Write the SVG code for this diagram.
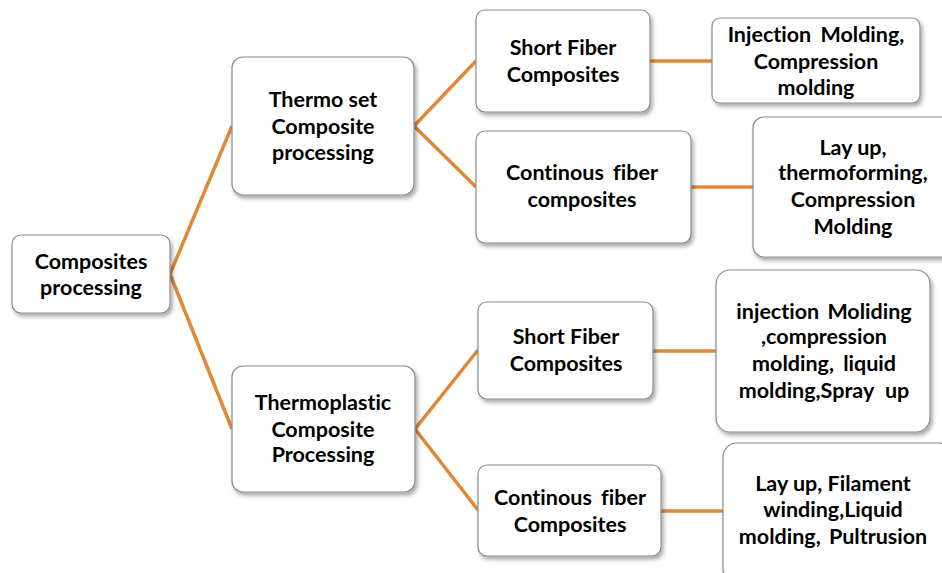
<svg xmlns="http://www.w3.org/2000/svg" width="942" height="573" viewBox="0 0 942 573">
<defs>
<filter id="sh" x="-10%" y="-10%" width="130%" height="140%">
<feDropShadow dx="2" dy="3" stdDeviation="2" flood-color="#000" flood-opacity="0.35"/>
</filter>
</defs>
<style>
.box{fill:#fff;stroke:#8c8c8c;stroke-width:1.2;filter:url(#sh)}
.t{font-family:Lato,"Open Sans","Liberation Sans",sans-serif;font-weight:bold;font-size:21.5px;fill:#000;text-anchor:middle;font-variant-ligatures:none}
.c{stroke:#E0883A;stroke-width:3.5;fill:none}
</style>
<rect width="942" height="573" fill="#fff"/>
<g id="connectors">
<polyline class="c" points="232,126 170,274 232,429"/>
<polyline class="c" points="476,61 414,126 476,187"/>
<polyline class="c" points="478,350 415,429 478,510"/>
<line class="c" x1="650" y1="61" x2="712" y2="61"/>
<line class="c" x1="691" y1="187" x2="753" y2="187"/>
<line class="c" x1="653" y1="351" x2="716" y2="351"/>
<line class="c" x1="661" y1="511" x2="723" y2="511"/>
</g>
<g id="root">
<rect class="box" x="12" y="235" width="158" height="78" rx="9"/>
<text class="t" x="91" y="269">Composites</text>
<text class="t" x="91" y="295">processing</text>
</g>
<g id="thermoset">
<rect class="box" x="232" y="57" width="182" height="138" rx="11"/>
<text class="t" x="323" y="107">Thermo set</text>
<text class="t" x="323" y="134">Composite</text>
<text class="t" x="323" y="160">processing</text>
</g>
<g id="thermoplastic">
<rect class="box" x="232" y="366" width="183" height="126" rx="11"/>
<text class="t" x="323" y="410">Thermoplastic</text>
<text class="t" x="323" y="437">Composite</text>
<text class="t" x="323" y="462">Processing</text>
</g>
<g id="ts-short">
<rect class="box" x="476" y="10" width="174" height="102" rx="9"/>
<text class="t" x="563" y="55">Short Fiber</text>
<text class="t" x="563" y="82">Composites</text>
</g>
<g id="ts-cont">
<rect class="box" x="476" y="131" width="215" height="112" rx="9"/>
<text class="t" x="582" y="180" word-spacing="4">Continous fiber</text>
<text class="t" x="582" y="207">composites</text>
</g>
<g id="ts-short-proc">
<rect class="box" x="712" y="18" width="208" height="85" rx="8"/>
<text class="t" x="816" y="42" word-spacing="4">Injection Molding,</text>
<text class="t" x="816" y="69">Compression</text>
<text class="t" x="816" y="95">molding</text>
</g>
<g id="ts-cont-proc">
<rect class="box" x="753" y="117" width="200" height="140" rx="11"/>
<text class="t" x="853" y="155">Lay up,</text>
<text class="t" x="853" y="180">thermoforming,</text>
<text class="t" x="853" y="207">Compression</text>
<text class="t" x="853" y="234">Molding</text>
</g>
<g id="tp-short">
<rect class="box" x="478" y="302" width="175" height="97" rx="9"/>
<text class="t" x="566" y="344">Short Fiber</text>
<text class="t" x="566" y="371">Composites</text>
</g>
<g id="tp-cont">
<rect class="box" x="478" y="465" width="183" height="91" rx="9"/>
<text class="t" x="570" y="505" word-spacing="4">Continous fiber</text>
<text class="t" x="570" y="532">Composites</text>
</g>
<g id="tp-short-proc">
<rect class="box" x="716" y="270" width="214" height="162" rx="14"/>
<text class="t" x="824" y="319" word-spacing="3">injection Moliding</text>
<text class="t" x="824" y="344">,compression</text>
<text class="t" x="824" y="371" word-spacing="4">molding, liquid</text>
<text class="t" x="824" y="398" word-spacing="6">molding,Spray up</text>
</g>
<g id="tp-cont-proc">
<rect class="box" x="723" y="443" width="230" height="140" rx="14"/>
<text class="t" x="833" y="491">Lay up, Filament</text>
<text class="t" x="833" y="517">winding,Liquid</text>
<text class="t" x="833" y="544" word-spacing="3">molding, Pultrusion</text>
</g>
</svg>
